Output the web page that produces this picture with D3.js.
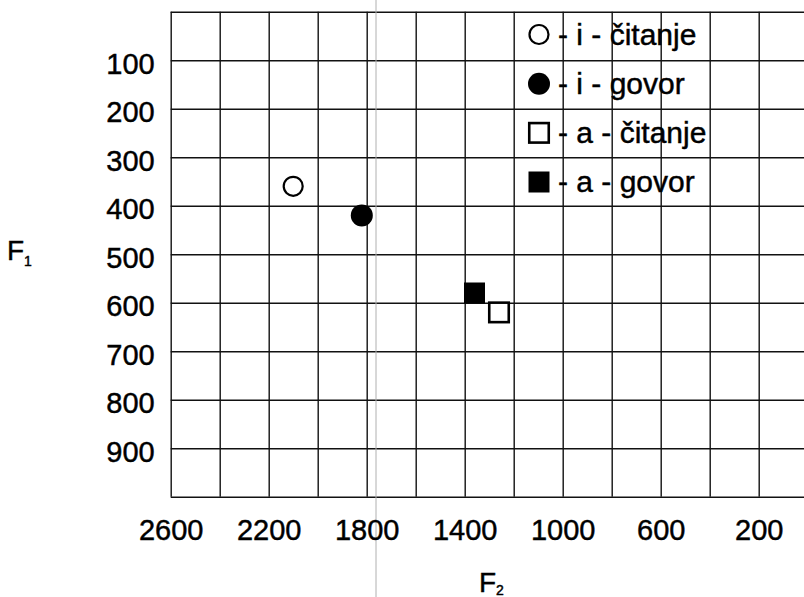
<!DOCTYPE html>
<html>
<head>
<meta charset="utf-8">
<script src="https://cdn.jsdelivr.net/npm/d3@7"></script>
<style>
  html, body { margin: 0; padding: 0; background: #fff; }
  text { font-family: "Liberation Sans", Arial, sans-serif; fill: #000; stroke: #000; stroke-width: 0.45px; }
</style>
</head>
<body>
<svg id="chart" width="804" height="597"></svg>
<script>
// podaci
const seriesLabels = ["- i - čitanje", "- i - govor", "- a - čitanje", "- a - govor"];
const f2Values = [2100, 1820, 1260, 1360];
const f1Values = [360, 420, 620, 580];
const markerShapes = ["circle", "circle", "square", "square"];
const markerFilled = [false, true, false, true];
const xGridValues = [2600, 2400, 2200, 2000, 1800, 1600, 1400, 1200, 1000, 800, 600, 400, 200, 0];
const xTickLabels = [2600, 2200, 1800, 1400, 1000, 600, 200];
const yGridValues = [0, 100, 200, 300, 400, 500, 600, 700, 800, 900, 1000];
const yTickLabels = [100, 200, 300, 400, 500, 600, 700, 800, 900];

const svg = d3.select("#chart");
const plotLeft = 170.7, plotTop = 11.7, plotBottom = 496.7, plotRight = 807.7;

const x = d3.scaleLinear().domain([2600, 0]).range([plotLeft, plotRight]);
const y = d3.scaleLinear().domain([0, 1000]).range([plotTop, plotBottom]);

// mreza
svg.append("g")
  .attr("transform", `translate(0,${plotTop})`)
  .call(d3.axisBottom(x).tickValues(xGridValues).tickSize(plotBottom - plotTop).tickFormat(""))
  .call(g => g.select(".domain").remove())
  .call(g => g.selectAll("line").attr("stroke", "#111").attr("stroke-width", 1.4));

svg.append("g")
  .attr("transform", `translate(${plotLeft},0)`)
  .call(d3.axisRight(y).tickValues(yGridValues).tickSize(plotRight - plotLeft).tickFormat(""))
  .call(g => g.select(".domain").remove())
  .call(g => g.selectAll("line").attr("stroke", "#111").attr("stroke-width", 1.4));

// sivi trag skeniranja
svg.append("line")
  .attr("x1", 376).attr("x2", 376).attr("y1", 0).attr("y2", 597)
  .attr("stroke", "#b0b0b0").attr("stroke-width", 1);

// oznake osi
svg.append("g")
  .attr("transform", `translate(${plotLeft},0)`)
  .call(d3.axisLeft(y).tickValues(yTickLabels).tickSize(0).tickPadding(16).tickFormat(d3.format("d")))
  .call(g => g.select(".domain").remove())
  .call(g => g.selectAll("text")
    .attr("dy", "0.45em")
    .style("font-size", "29px")
    .style("font-family", "'Liberation Sans', Arial, sans-serif")
    .attr("fill", "#000"));

svg.append("g")
  .attr("transform", `translate(0,${plotBottom})`)
  .call(d3.axisBottom(x).tickValues(xTickLabels).tickSize(0).tickPadding(23).tickFormat(d3.format("d")))
  .call(g => g.select(".domain").remove())
  .call(g => g.selectAll("text")
    .style("font-size", "29px")
    .style("font-family", "'Liberation Sans', Arial, sans-serif")
    .attr("fill", "#000"));

// naslovi osi
const f1 = svg.append("text").attr("x", 7).attr("y", 260).style("font-size", "28px");
f1.append("tspan").text("F");
f1.append("tspan").attr("dy", 6).style("font-size", "14px").text("1");

const f2 = svg.append("text").attr("x", 479).attr("y", 592).style("font-size", "28px");
f2.append("tspan").text("F");
f2.append("tspan").attr("dy", 3).style("font-size", "14px").text("2");

// markeri
function drawMarker(g, shape, filled, cx, cy) {
  if (shape === "circle") {
    g.append("circle")
      .attr("cx", cx).attr("cy", cy).attr("r", filled ? 11 : 9.5)
      .attr("fill", filled ? "#000" : "#fff")
      .attr("stroke", "#000").attr("stroke-width", filled ? 0 : 2.2);
  } else {
    const s = filled ? 21 : 19.5;
    g.append("rect")
      .attr("x", cx - s / 2).attr("y", cy - s / 2)
      .attr("width", s).attr("height", s)
      .attr("fill", filled ? "#000" : "#fff")
      .attr("stroke", "#000").attr("stroke-width", filled ? 0 : 2.6);
  }
}

const points = svg.append("g");
f2Values.forEach((v, i) => {
  drawMarker(points, markerShapes[i], markerFilled[i], x(v), y(f1Values[i]));
});

// legenda
const legend = svg.append("g");
const legendY = d3.scaleLinear().domain([0, 3]).range([34.5, 182]);
seriesLabels.forEach((lab, i) => {
  drawMarker(legend, markerShapes[i], markerFilled[i], 539, legendY(i));
  legend.append("text")
    .attr("x", 558).attr("y", legendY(i) + 10)
    .style("font-size", "30px")
    .text(lab);
});
</script>
</body>
</html>
